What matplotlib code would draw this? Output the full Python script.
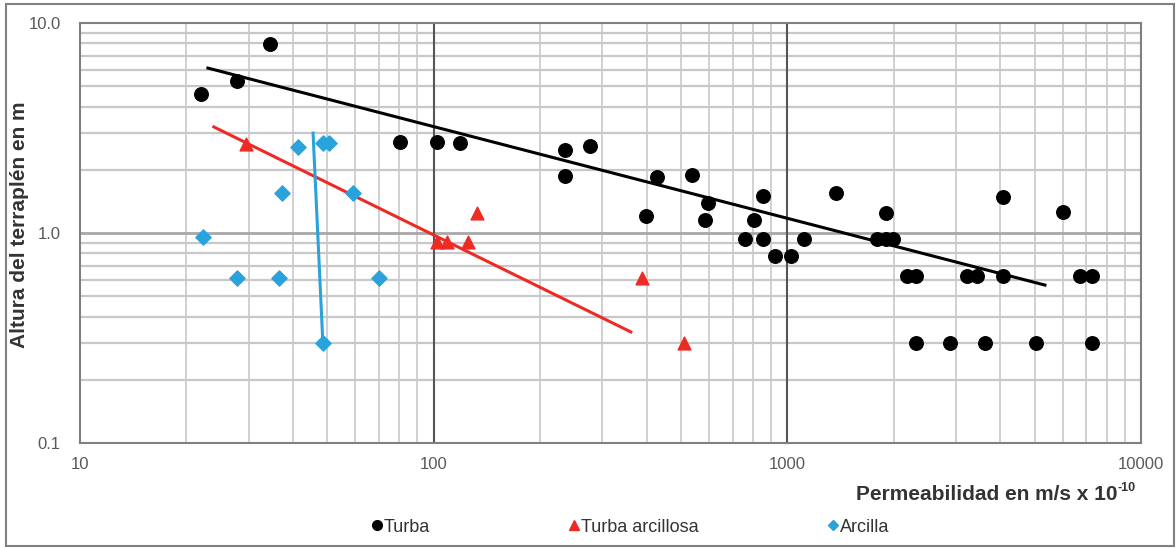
import numpy as np
import matplotlib.pyplot as plt
from matplotlib.patches import Rectangle
from matplotlib.lines import Line2D

# --- Data (x: permeabilidad, y: altura) ---
turba_x = [22.0, 27.8, 34.4, 80.3, 102, 118.6, 235, 235, 277, 428, 398, 537, 597, 585,
           759, 805, 853, 853, 922, 1024, 1113, 1371, 1901, 1790, 1901, 1990, 4074, 6010,
           2178, 2310, 3222, 3438, 4074, 6715, 7260,
           2310, 2884, 3623, 5049, 7260]
turba_y = [4.59, 5.3, 7.94, 2.71, 2.71, 2.68, 2.48, 1.87, 2.59, 1.85, 1.2, 1.88, 1.39, 1.15,
           0.94, 1.15, 1.5, 0.94, 0.777, 0.777, 0.94, 1.55, 1.245, 0.94, 0.94, 0.94, 1.48, 1.26,
           0.624, 0.624, 0.624, 0.624, 0.624, 0.624, 0.624,
           0.3, 0.3, 0.3, 0.3, 0.3]

arcillosa_x = [29.4, 102, 109, 125, 133, 388, 510]
arcillosa_y = [2.65, 0.906, 0.906, 0.906, 1.245, 0.61, 0.3]

arcilla_x = [22.3, 27.8, 36.5, 70.0, 48.6, 37.2, 41.3, 48.6, 50.6, 59.2]
arcilla_y = [0.957, 0.61, 0.61, 0.61, 0.3, 1.55, 2.57, 2.68, 2.68, 1.55]

# trend line end points
turba_fit_x = [23.0, 5350]
turba_fit_y = [6.1, 0.565]
arcillosa_fit_x = [23.9, 361]
arcillosa_fit_y = [3.2, 0.338]
arcilla_fit_x = [45.6, 48.6]
arcilla_fit_y = [2.99, 0.3]

x_ticks = [10, 100, 1000, 10000]
x_ticklabels = ['10', '100', '1000', '10000']
y_ticks = [0.1, 1, 10]
y_ticklabels = ['0.1', '1.0', '10.0']

BLACK = '#000000'
RED = '#ee2a24'
BLUE = '#2aa3dc'
TXT = '#595959'
DARK = '#333333'

plt.rcParams['font.family'] = ['Liberation Sans', 'DejaVu Sans']

W, H = 1176, 548
fig = plt.figure(figsize=(W / 100, H / 100), dpi=100)
ax = fig.add_axes([80 / W, 105 / H, 1061 / W, 420 / H])

ax.set_xscale('log')
ax.set_yscale('log')
ax.set_xlim(10, 10000)
ax.set_ylim(0.1, 10)

# grid (Excel style)
for dec in [10, 100, 1000]:
    for m in range(2, 10):
        ax.axvline(dec * m, color='#c8c8c8', lw=1.2, zorder=0)
for dec in [0.1, 1]:
    for m in range(2, 10):
        ax.axhline(dec * m, color='#c8c8c8', lw=1.6, zorder=0)
ax.axhline(1, color='#a8a8a8', lw=2.0, zorder=0)
for v in [100, 1000]:
    ax.axvline(v, color='#555555', lw=1.5, zorder=0)

# trend lines
ax.plot(turba_fit_x, turba_fit_y, color=BLACK, lw=2.2, zorder=2)
ax.plot(arcillosa_fit_x, arcillosa_fit_y, color=RED, lw=2.2, zorder=2)
ax.plot(arcilla_fit_x, arcilla_fit_y, color=BLUE, lw=2.2, zorder=2)

# points
ax.scatter(turba_x, turba_y, s=95, marker='o', color=BLACK, zorder=3)
ax.scatter(arcillosa_x, arcillosa_y, s=85, marker='^', color=RED, zorder=3)
ax.scatter(arcilla_x, arcilla_y, s=60, marker='D', color=BLUE, zorder=3)

ax.set_xticks(x_ticks)
ax.set_xticklabels(x_ticklabels)
ax.set_yticks(y_ticks)
ax.set_yticklabels(y_ticklabels)
ax.minorticks_off()
ax.tick_params(length=0, labelsize=12, colors=TXT)
ax.tick_params(axis='x', pad=10)
ax.tick_params(axis='y', pad=14)

for s in ax.spines.values():
    s.set_color('#808080')
    s.set_linewidth(1.5)

# axis titles
fig.text(20 / W, 1 - 225 / H, 'Altura del terraplén en m', rotation=90,
         fontsize=15, fontweight='bold', color=DARK, ha='center', va='center')
fig.text(1117 / W, 1 - 500 / H, 'Permeabilidad en m/s x 10',
         fontsize=15, fontweight='bold', color=DARK, ha='right', va='baseline')
fig.text(1118 / W, 1 - 491 / H, '-10',
         fontsize=9, fontweight='bold', color=DARK, ha='left', va='baseline')

# legend, one entry at a time to keep the wide, uneven spacing
legend_items = [
    ('Turba', 'o', BLACK, 7, 366),
    ('Turba arcillosa', '^', RED, 7, 563),
    ('Arcilla', 'D', BLUE, 5.5, 822),
]
for label, mk, col, ms, xpx in legend_items:
    h = Line2D([], [], ls='none', marker=mk, color=col, markersize=ms)
    leg = fig.legend(handles=[h], labels=[label], loc='center left',
                     bbox_to_anchor=(xpx / W, 1 - 527 / H), frameon=False,
                     fontsize=13, handletextpad=-0.2, handlelength=1.2, borderpad=0,
                     borderaxespad=0)
    for t in leg.get_texts():
        t.set_color(DARK)

fig.patches.append(Rectangle((6 / W, 2 / H), 1168 / W, 542 / H, transform=fig.transFigure,
                             fill=False, edgecolor='#808080', lw=1.5))

fig.savefig('out.png', dpi=100)
